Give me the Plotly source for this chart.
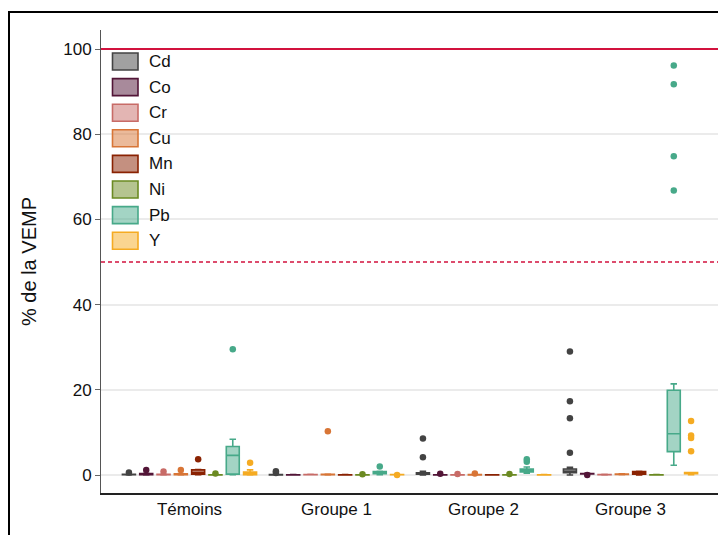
import plotly.graph_objects as go

# ---------------- data ----------------
CATEGORIES = ["Témoins", "Groupe 1", "Groupe 2", "Groupe 3"]
METALS = ["Cd", "Co", "Cr", "Cu", "Mn", "Ni", "Pb", "Y"]

# values (% de la VEMP), one list per group: Témoins, Groupe 1, Groupe 2, Groupe 3
CD = [
    [0.0, 0.02, 0.05, 0.07, 0.1, 0.12, 0.15, 0.18, 0.6],
    [0.0, 0.02, 0.04, 0.05, 0.06, 0.08, 0.1, 0.5, 0.9],
    [0.0, 0.05, 0.1, 0.2, 0.25, 0.3, 0.35, 0.4, 0.45, 0.5, 0.9, 4.2, 8.6],
    [0.0, 0.1, 0.2, 0.3, 0.4, 0.55, 0.6, 0.7, 0.8, 0.85, 0.9, 1.0, 1.1, 1.2, 1.3, 1.4, 1.8, 5.2, 13.3, 17.3, 29.0],
]
CO = [
    [0.0, 0.05, 0.1, 0.15, 0.2, 0.25, 0.35, 0.4, 1.2],
    [0.0, 0.01, 0.02, 0.03, 0.04, 0.05, 0.06, 0.08, 0.1],
    [0.0, 0.01, 0.02, 0.03, 0.04, 0.05, 0.06, 0.07, 0.3],
    [0.0, 0.25, 0.28, 0.3, 0.32, 0.34, 0.36, 0.38, 0.4],
]
CR = [
    [0.0, 0.03, 0.05, 0.08, 0.1, 0.12, 0.15, 0.2, 0.8],
    [0.05, 0.07, 0.08, 0.09, 0.1, 0.11, 0.12, 0.14, 0.15],
    [0.0, 0.01, 0.02, 0.03, 0.04, 0.05, 0.06, 0.07, 0.25],
    [0.0, 0.03, 0.05, 0.07, 0.1, 0.12, 0.14, 0.16, 0.18],
]
CU = [
    [0.0, 0.05, 0.1, 0.15, 0.2, 0.22, 0.3, 0.35, 1.2],
    [0.0, 0.02, 0.05, 0.07, 0.1, 0.12, 0.15, 0.2, 10.3],
    [0.0, 0.02, 0.04, 0.05, 0.06, 0.08, 0.1, 0.12, 0.35],
    [0.05, 0.1, 0.15, 0.18, 0.2, 0.22, 0.25, 0.28, 0.3],
]
MN = [
    [0.1, 0.15, 0.2, 0.4, 0.6, 0.8, 1.2, 1.3, 3.7],
    [0.0, 0.02, 0.04, 0.05, 0.06, 0.07, 0.08, 0.1, 0.12],
    [0.0, 0.01, 0.02, 0.03, 0.04, 0.05, 0.06, 0.07, 0.08],
    [0.0, 0.1, 0.2, 0.3, 0.45, 0.6, 0.8, 0.85, 0.9],
]
NI = [
    [0.0, 0.02, 0.04, 0.05, 0.06, 0.07, 0.08, 0.1, 0.35],
    [0.0, 0.01, 0.02, 0.03, 0.03, 0.04, 0.05, 0.06, 0.2],
    [0.0, 0.01, 0.02, 0.03, 0.04, 0.05, 0.06, 0.07, 0.25],
    [0.0, 0.02, 0.04, 0.05, 0.06, 0.07, 0.08, 0.1, 0.12],
]
PB = [
    [0.1, 0.15, 0.2, 2.5, 4.6, 5.5, 6.7, 8.4, 29.5],
    [0.1, 0.2, 0.3, 0.4, 0.5, 0.6, 0.8, 0.9, 2.0],
    [0.4, 0.5, 0.6, 0.7, 0.9, 1.0, 1.1, 1.2, 1.3, 1.4, 1.9, 3.1, 3.7],
    [2.3, 3.0, 3.8, 4.5, 5.0, 5.5, 6.5, 7.2, 8.0, 9.0, 9.7, 11.0, 13.0, 15.0, 18.0, 19.9, 21.4, 66.8, 74.8, 91.7, 96.1],
]
Y = [
    [0.0, 0.05, 0.1, 0.3, 0.4, 0.5, 0.7, 1.2, 2.9],
    [0.0, 0.06, 0.065, 0.07, 0.075, 0.08, 0.085, 0.09, 0.1],
    [0.0, 0.02, 0.04, 0.05, 0.06, 0.07, 0.08, 0.09, 0.1],
    [0.1, 0.15, 0.2, 0.25, 0.3, 0.32, 0.35, 0.38, 0.4, 0.45, 0.5, 0.55, 0.6, 5.6, 8.7, 9.3, 12.7],
]
VALUES = [CD, CO, CR, CU, MN, NI, PB, Y]

Y_TICKS = [0, 20, 40, 60, 80, 100]
LIMIT_SOLID = 100
LIMIT_DASH = 50

# ---------------- style ----------------
COLORS = ["#434343", "#521537", "#c86b67", "#d87536", "#8a2202",
          "#6b8a22", "#47a989", "#f5ab22"]
FILLS = ["rgba(67,67,67,0.5)", "rgba(82,21,55,0.5)", "rgba(200,107,103,0.5)",
         "rgba(216,117,54,0.5)", "rgba(138,34,2,0.5)", "rgba(107,138,34,0.5)",
         "rgba(71,169,137,0.5)", "rgba(245,171,34,0.5)"]
RED = "#d2123e"
FONT = "Arial, 'Liberation Sans', sans-serif"

# page has an 8px body margin; figure is sized so it fits the 726x535 window
OFF = 8
W, H = 726 - OFF, 535 - OFF
ML, MR, MT, MB = 101 - OFF, 7, 30 - OFF, 42
PW, PH = W - ML - MR, H - MT - MB


def px_x(px):  # page pixel -> paper
    return (px - OFF - ML) / PW


def px_y(py):
    return (H - MB - (py - OFF)) / PH


fig = go.Figure()
for name, vals, col, fill in zip(METALS, VALUES, COLORS, FILLS):
    xs, ys = [], []
    for cat, grp in zip(CATEGORIES, vals):
        xs += [cat] * len(grp)
        ys += grp
    fig.add_trace(go.Box(
        x=xs, y=ys, name=name,
        quartilemethod="inclusive",
        boxpoints="outliers",
        line=dict(color=col, width=1.6),
        fillcolor=fill,
        marker=dict(color=col, size=6.5),
        showlegend=False,
    ))

shapes = [
    dict(type="line", xref="paper", yref="y", x0=0, x1=1, y0=LIMIT_SOLID, y1=LIMIT_SOLID,
         line=dict(color=RED, width=2)),
    dict(type="line", xref="paper", yref="y", x0=0, x1=1, y0=LIMIT_DASH, y1=LIMIT_DASH,
         line=dict(color=RED, width=1.5, dash="4px,3px")),
    # outer frame
    dict(type="rect", xref="paper", yref="paper", x0=px_x(9), x1=px_x(760),
         y0=px_y(580), y1=px_y(12), line=dict(color="black", width=2), layer="above"),
]

annotations = []
for i, (name, col, fill) in enumerate(zip(METALS, COLORS, FILLS)):
    cy = 61.5 + 25.6 * i
    shapes.append(dict(type="rect", xref="paper", yref="paper",
                       x0=px_x(112.5), x1=px_x(138), y0=px_y(cy + 8.5), y1=px_y(cy - 8.5),
                       line=dict(color=col, width=1.6), fillcolor=fill, layer="above"))
    annotations.append(dict(xref="paper", yref="paper", x=px_x(147), y=px_y(cy),
                            text=name, showarrow=False, xanchor="left", yanchor="middle",
                            font=dict(size=17, color="#111", family=FONT)))

fig.update_layout(
    width=W, height=H,
    margin=dict(l=ML, r=MR, t=MT, b=MB, pad=0),
    paper_bgcolor="white", plot_bgcolor="white",
    boxmode="group", boxgap=0.058, boxgroupgap=0.25,
    font=dict(family=FONT, size=17, color="#111"),
    shapes=shapes, annotations=annotations,
    showlegend=False,
)
fig.update_xaxes(
    categoryorder="array", categoryarray=CATEGORIES,
    range=[-0.602, 3.602],
    showline=True, linecolor="#222", linewidth=2,
    showgrid=False, ticks="", tickfont=dict(size=17, color="#111"),
)
fig.update_yaxes(
    range=[-4.22, 104.46],
    tickvals=Y_TICKS,
    showline=True, linecolor="#555", linewidth=1,
    ticks="outside", ticklen=5, tickcolor="#666", tickwidth=1,
    showgrid=True, gridcolor="#ebebeb", gridwidth=1.5,
    zeroline=False,
    tickfont=dict(size=17, color="#111"),
    title=dict(text="% de la VEMP", font=dict(size=20, color="#111"), standoff=21),
)

fig.write_html("out.html")
